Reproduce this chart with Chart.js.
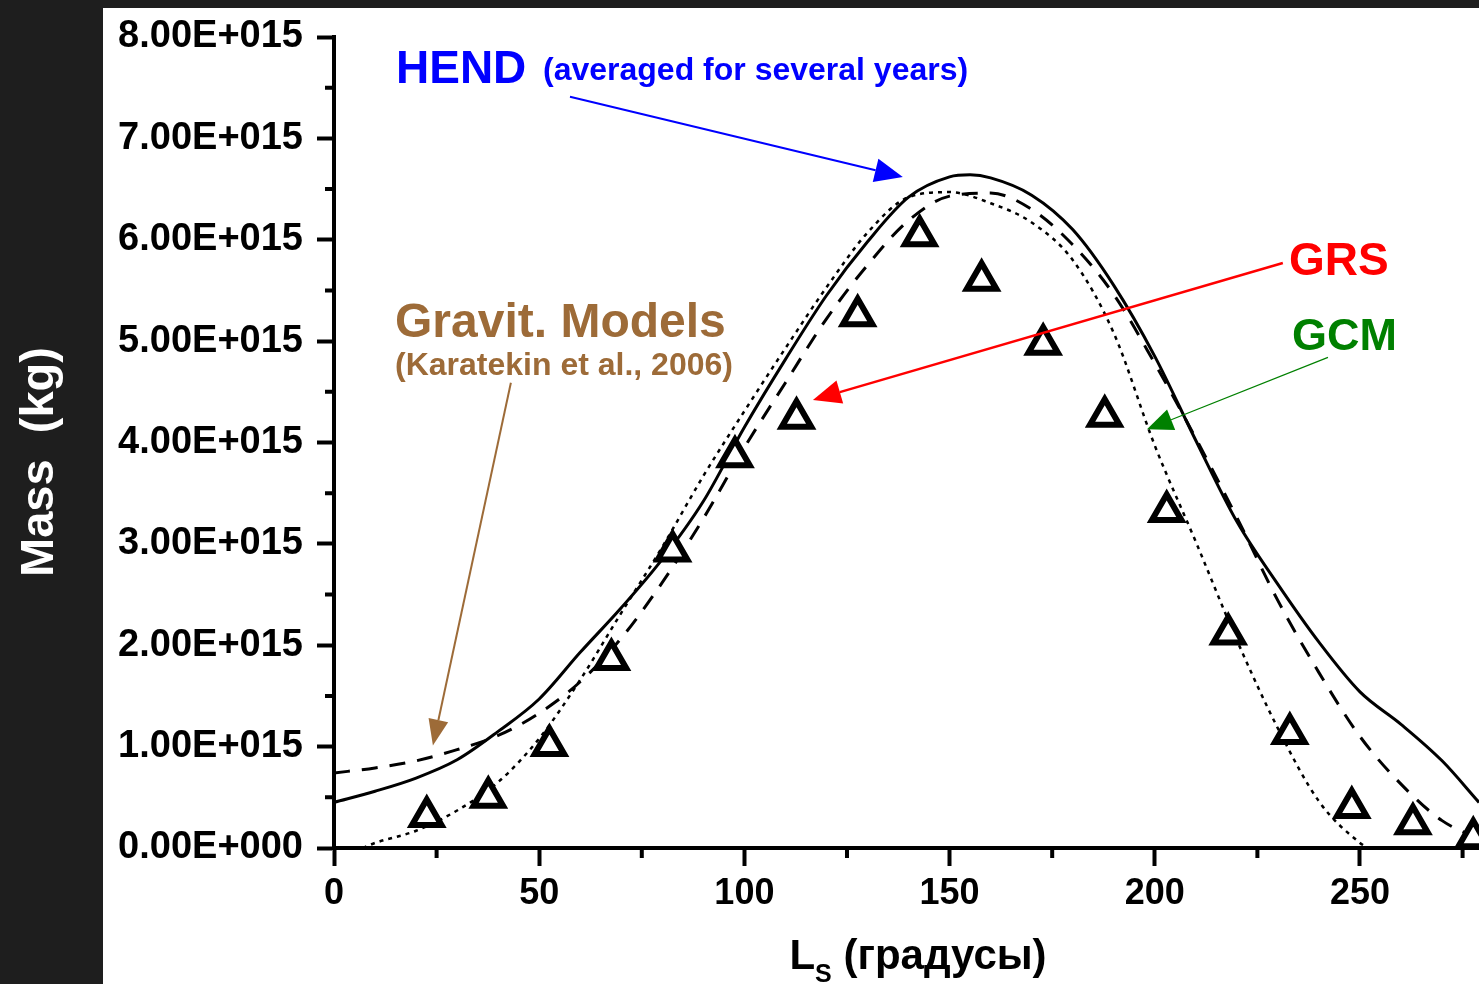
<!DOCTYPE html>
<html>
<head>
<meta charset="utf-8">
<title>Mass vs Ls</title>
<script src="https://cdn.jsdelivr.net/npm/chart.js@4.4.1/dist/chart.umd.min.js"></script>
<style>
  html, body { margin: 0; padding: 0; background: #1e1e1e; }
  #wrap { width: 1479px; height: 984px; }
</style>
</head>
<body>
<div id="wrap"><canvas id="massChart" width="1479" height="984"></canvas></div>
<script>
const MASS_UNIT = 1e15; // all masses below are in 1e15 kg

// HEND (solid)
const hendLs   = [0, 10, 20, 30, 40, 50, 60, 70, 80, 90, 100, 110, 120, 130, 140, 150, 155, 160, 170, 180, 190, 200, 210, 220, 230, 240, 250, 260, 270, 279];
const hendMass = [0.45, 0.56, 0.69, 0.87, 1.15, 1.47, 1.93, 2.37, 2.85, 3.42, 4.15, 4.82, 5.45, 5.98, 6.42, 6.62, 6.64, 6.61, 6.44, 6.10, 5.55, 4.85, 4.02, 3.22, 2.60, 2.03, 1.54, 1.22, 0.86, 0.45];

// Gravit. Models (dashed)
const gravLs   = [0, 10, 20, 30, 40, 50, 60, 70, 80, 90, 100, 110, 120, 130, 140, 150, 160, 170, 180, 190, 200, 210, 220, 230, 240, 250, 260, 270, 279];
const gravMass = [0.74, 0.79, 0.86, 0.97, 1.11, 1.33, 1.64, 2.07, 2.62, 3.25, 3.95, 4.59, 5.22, 5.75, 6.19, 6.43, 6.46, 6.30, 5.95, 5.46, 4.78, 4.04, 3.26, 2.44, 1.73, 1.10, 0.63, 0.27, 0.09];

// GCM (dotted)
const gcmLs   = [7, 10, 20, 30, 40, 50, 60, 70, 80, 90, 100, 110, 120, 130, 140, 150, 160, 170, 180, 190, 200, 210, 220, 230, 240, 250, 252];
const gcmMass = [0.0, 0.05, 0.17, 0.37, 0.65, 1.08, 1.66, 2.32, 2.97, 3.67, 4.31, 4.93, 5.53, 6.07, 6.42, 6.47, 6.36, 6.17, 5.80, 5.08, 3.97, 3.02, 2.05, 1.18, 0.46, 0.05, 0.0];

// GRS (triangles)
const grsLs   = [22.6, 37.6, 52.5, 67.6, 82.5, 97.7, 112.7, 127.6, 142.7, 157.8, 172.8, 187.8, 202.9, 217.9, 232.9, 248.0, 262.9, 277.6];
const grsMass = [0.31, 0.50, 1.01, 1.86, 2.93, 3.86, 4.24, 5.25, 6.04, 5.60, 4.97, 4.26, 3.32, 2.11, 1.13, 0.40, 0.24, 0.10];

const FONT = '"Liberation Sans", Arial, sans-serif';

function toPoints(xs, ys) {
    return xs.map((x, i) => ({ x: x, y: ys[i] * MASS_UNIT }));
}

function drawArrow(ctx, x1, y1, x2, y2, color, width, headLen, headWidth) {
    const ang = Math.atan2(y2 - y1, x2 - x1);
    const bx = x2 - headLen * Math.cos(ang);
    const by = y2 - headLen * Math.sin(ang);
    ctx.strokeStyle = color;
    ctx.lineWidth = width;
    ctx.beginPath();
    ctx.moveTo(x1, y1);
    ctx.lineTo(bx, by);
    ctx.stroke();
    ctx.fillStyle = color;
    ctx.beginPath();
    ctx.moveTo(x2, y2);
    ctx.lineTo(bx + headWidth / 2 * Math.sin(ang), by - headWidth / 2 * Math.cos(ang));
    ctx.lineTo(bx - headWidth / 2 * Math.sin(ang), by + headWidth / 2 * Math.cos(ang));
    ctx.closePath();
    ctx.fill();
}

// arrows given in data units (Ls, 1e15 kg)
const arrows = [
    { from: [57.5, 7.41], to: [138.6, 6.62], color: '#0000ff', width: 2, head: [28, 24] },
    { from: [231.2, 5.77], to: [116.7, 4.42], color: '#ff0000', width: 2.5, head: [28, 24] },
    { from: [242.2, 4.84], to: [198.1, 4.13], color: '#008000', width: 1.2, head: [26, 22] },
    { from: [43.1, 4.59], to: [24.1, 1.01], color: '#9d6b38', width: 2, head: [26, 20] }
];

const labels = [
    { text: 'HEND', x: 396, y: 83, size: 46, color: '#0000ff' },
    { text: '(averaged for several years)', x: 543, y: 80, size: 32, color: '#0000ff' },
    { text: 'Gravit. Models', x: 395, y: 337, size: 48, color: '#9d6b38' },
    { text: '(Karatekin et al., 2006)', x: 395, y: 375, size: 32, color: '#9d6b38' },
    { text: 'GRS', x: 1289, y: 275, size: 46, color: '#ff0000' },
    { text: 'GCM', x: 1292, y: 350, size: 45, color: '#008000' }
];

const backdrop = {
    id: 'backdrop',
    beforeDraw(chart) {
        const ctx = chart.ctx;
        ctx.save();
        ctx.fillStyle = '#1e1e1e';
        ctx.fillRect(0, 0, chart.width, chart.height);
        ctx.fillStyle = '#ffffff';
        ctx.fillRect(103, 8, chart.width - 103, chart.height - 8);
        ctx.restore();
    }
};

const extras = {
    id: 'extras',
    afterDraw(chart) {
        const { ctx, chartArea } = chart;
        const xs = chart.scales.x, ys = chart.scales.y;
        ctx.save();

        // minor ticks
        ctx.strokeStyle = '#000';
        ctx.lineWidth = 4;
        ctx.beginPath();
        for (let v = 0.5; v < 8; v += 1) {
            const py = ys.getPixelForValue(v * MASS_UNIT);
            ctx.moveTo(chartArea.left - 9, py);
            ctx.lineTo(chartArea.left, py);
        }
        for (let v = 25; v <= xs.max; v += 50) {
            const px = xs.getPixelForValue(v);
            ctx.moveTo(px, chartArea.bottom);
            ctx.lineTo(px, chartArea.bottom + 10);
        }
        ctx.stroke();

        // arrows
        arrows.forEach(a => {
            drawArrow(ctx,
                xs.getPixelForValue(a.from[0]), ys.getPixelForValue(a.from[1] * MASS_UNIT),
                xs.getPixelForValue(a.to[0]), ys.getPixelForValue(a.to[1] * MASS_UNIT),
                a.color, a.width, a.head[0], a.head[1]);
        });

        // text labels
        ctx.textAlign = 'left';
        ctx.textBaseline = 'alphabetic';
        labels.forEach(l => {
            ctx.font = `bold ${l.size}px ${FONT}`;
            ctx.fillStyle = l.color;
            ctx.fillText(l.text, l.x, l.y);
        });

        // y axis title (on the dark strip)
        ctx.save();
        ctx.translate(40, 462);
        ctx.rotate(-Math.PI / 2);
        ctx.font = `bold 47px ${FONT}`;
        ctx.fillStyle = '#ffffff';
        ctx.textAlign = 'center';
        ctx.textBaseline = 'middle';
        ctx.fillText('Mass  (kg)', 0, 0);
        ctx.restore();

        // x axis title with subscript
        const bigFont = `bold 42px ${FONT}`, subFont = `bold 25px ${FONT}`;
        ctx.fillStyle = '#000';
        ctx.font = bigFont;
        const wL = ctx.measureText('L').width;
        const wRest = ctx.measureText(' (градусы)').width;
        ctx.font = subFont;
        const wS = ctx.measureText('S').width;
        let tx = 918 - (wL + wS + wRest) / 2;
        ctx.font = bigFont;
        ctx.fillText('L', tx, 969);
        tx += wL;
        ctx.font = subFont;
        ctx.fillText('S', tx, 982);
        tx += wS;
        ctx.font = bigFont;
        ctx.fillText(' (градусы)', tx, 969);

        ctx.restore();
    }
};

function formatMass(v) {
    const parts = Number(v).toExponential(2).split('e');
    const e = parseInt(parts[1], 10);
    return parts[0] + 'E' + (e < 0 ? '-' : '+') + String(Math.abs(e)).padStart(3, '0');
}

const ctx = document.getElementById('massChart').getContext('2d');
const massChart = new Chart(ctx, {
    type: 'line',
    data: {
        datasets: [
            {
                label: 'GRS',
                data: toPoints(grsLs, grsMass),
                showLine: false,
                pointStyle: 'triangle',
                pointRadius: 17,
                pointBorderWidth: 6,
                pointBorderColor: '#000',
                pointBackgroundColor: '#fff',
                clip: false
            },
            {
                label: 'HEND',
                data: toPoints(hendLs, hendMass),
                borderColor: '#000',
                borderWidth: 3,
                pointRadius: 0,
                cubicInterpolationMode: 'monotone'
            },
            {
                label: 'Gravit. Models',
                data: toPoints(gravLs, gravMass),
                borderColor: '#000',
                borderWidth: 3,
                borderDash: [16, 12],
                pointRadius: 0,
                cubicInterpolationMode: 'monotone'
            },
            {
                label: 'GCM',
                data: toPoints(gcmLs, gcmMass),
                borderColor: '#000',
                borderWidth: 2.5,
                borderDash: [4, 5],
                pointRadius: 0,
                cubicInterpolationMode: 'monotone'
            }
        ]
    },
    options: {
        responsive: false,
        animation: false,
        layout: { autoPadding: false, padding: { left: 103, top: 37, right: 0, bottom: 0 } },
        plugins: {
            legend: { display: false },
            tooltip: { enabled: false }
        },
        scales: {
            x: {
                type: 'linear',
                min: 0,
                max: 279,
                afterFit: scale => {
                    scale.height = 136;
                    scale.paddingLeft = 0;
                    scale.paddingRight = 0;
                },
                border: { display: true, color: '#000', width: 4 },
                grid: { drawOnChartArea: false, drawTicks: true, tickLength: 18, tickWidth: 4, tickColor: '#000' },
                ticks: {
                    stepSize: 50,
                    includeBounds: false,
                    padding: 6,
                    color: '#000',
                    font: { family: FONT, size: 36, weight: 'bold' }
                }
            },
            y: {
                type: 'linear',
                min: 0,
                max: 8 * MASS_UNIT,
                afterFit: scale => {
                    scale.width = 231;
                    scale.paddingTop = 0;
                    scale.paddingBottom = 0;
                },
                border: { display: true, color: '#000', width: 4 },
                grid: { drawOnChartArea: false, drawTicks: true, tickLength: 17, tickWidth: 4, tickColor: '#000' },
                ticks: {
                    stepSize: MASS_UNIT,
                    padding: 14,
                    color: '#000',
                    font: { family: FONT, size: 38, weight: 'bold' },
                    callback: v => formatMass(v)
                }
            }
        }
    },
    plugins: [backdrop, extras]
});
</script>
</body>
</html>
